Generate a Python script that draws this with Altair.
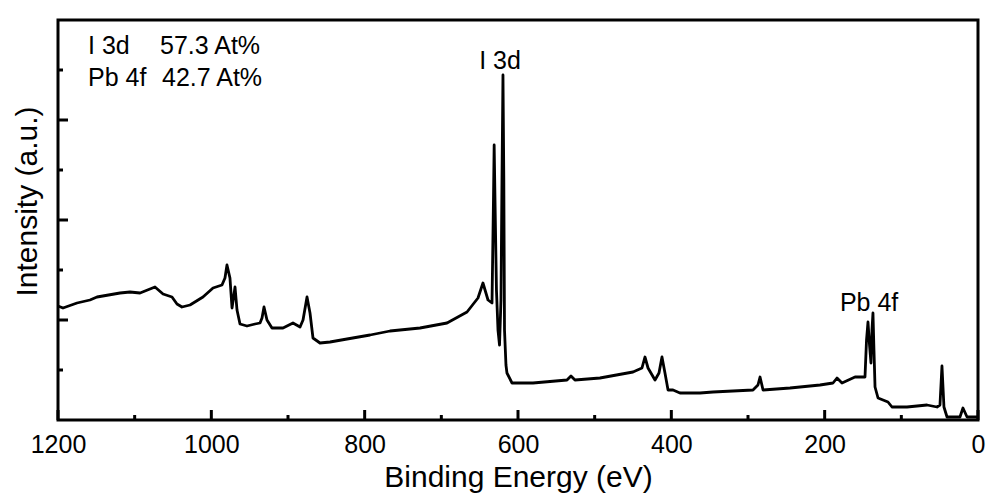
import altair as alt
import pandas as pd

# Binding energy (eV) and intensity (a.u.)
energy = [
    1200.0, 1193.5, 1175.2, 1158.3, 1149.1, 1119.1, 1106.1, 1093.0, 1073.5, 1063.0,
    1051.3, 1044.8, 1038.3, 1027.8, 1010.9, 997.8, 986.1, 982.2, 979.6, 975.7,
    973.0, 969.1, 966.5, 962.6, 953.5, 943.0, 936.5, 933.9, 931.3, 927.4,
    920.9, 906.5, 893.5, 884.3, 880.4, 875.2, 871.3, 867.4, 858.3, 845.2,
    823.0, 793.0, 766.9, 727.8, 692.6, 666.5, 652.2, 645.7, 639.1, 633.9,
    632.0, 631.1, 630.0, 628.1, 626.1, 624.1, 622.2, 620.9, 619.6, 618.5,
    617.6, 615.7, 614.4, 607.8, 580.4, 536.1, 530.9, 525.7, 493.1, 450.0,
    438.3, 434.4, 430.4, 421.3, 416.1, 412.2, 408.3, 404.3, 397.8, 388.7,
    362.6, 345.7, 293.5, 287.0, 284.3, 280.4, 245.2, 206.1, 189.1, 183.9,
    177.4, 160.4, 147.4, 145.4, 143.5, 141.5, 139.6, 138.3, 137.0, 135.7,
    134.3, 130.4, 117.4, 112.2, 92.6, 66.5, 53.5, 49.6, 47.0, 44.4,
    40.4, 23.5, 19.6, 14.3, 1.3,
]
intensity = [
    11400, 11200, 11700, 12000, 12300, 12700, 12800, 12700, 13300, 12600,
    12300, 11600, 11300, 11500, 12300, 13200, 13500, 14200, 15500, 14200,
    11200, 13300, 11000, 9600, 9400, 9600, 9700, 10200, 11300, 10000,
    9200, 9200, 9700, 9300, 10000, 12300, 10700, 8200, 7700, 7800,
    8100, 8500, 8900, 9200, 9700, 10800, 12200, 13700, 12000, 11700,
    22000, 27500, 22000, 13000, 9000, 7500, 12000, 24000, 34500, 24000,
    9000, 5500, 4700, 3700, 3700, 4000, 4400, 4000, 4200, 4800,
    5200, 6300, 5200, 4000, 4700, 6300, 4700, 3000, 3000, 2700,
    2700, 2800, 3000, 3500, 4300, 3000, 3200, 3500, 3700, 4200,
    3700, 4300, 4300, 8000, 9800, 7500, 5700, 9000, 10700, 7000,
    3300, 2200, 1800, 1300, 1300, 1500, 1300, 1500, 5400, 1300,
    300, 300, 1200, 300, 300,
]

x_label_values = [1200, 1000, 800, 600, 400, 200, 0]
x_minor_ticks = [1100, 900, 700, 500, 300, 100]
y_major_ticks = [10000, 20000, 30000]
y_minor_ticks = [5000, 15000, 25000, 35000]

peak_labels = ["I 3d", "Pb 4f"]
peak_label_e = [623.5, 142.0]
peak_label_i = [35100, 10900]

corner_elements = ["I 3d", "Pb 4f"]
corner_values = ["57.3 At%", "42.7 At%"]

FONT = "Liberation Sans"
W, H = 920, 400

spec_df = pd.DataFrame({"E": energy, "I": intensity, "idx": list(range(len(energy)))})

xenc = alt.X(
    "E:Q",
    scale=alt.Scale(domain=[1200, 0], nice=False, zero=False),
    axis=alt.Axis(
        values=x_label_values, format="d", title="Binding Energy (eV)", ticks=False,
        domain=False, grid=False, labelFontSize=25, labelFont=FONT, labelColor="black",
        labelPadding=12, titleFontSize=30, titleFont=FONT, titleFontWeight="normal",
        titleColor="black", titlePadding=5, labelFlush=False,
    ),
)
yenc = alt.Y(
    "I:Q",
    scale=alt.Scale(domain=[0, 40000], nice=False, zero=False),
    axis=alt.Axis(
        labels=False, ticks=False, domain=False, grid=False,
        title="Intensity (a.u.)", titleFontSize=30, titleFont=FONT,
        titleFontWeight="normal", titleColor="black", titlePadding=16,
        titleX=-16, titleY=181, titleAngle=270, titleBaseline="bottom", titleAlign="center",
    ),
)

line = alt.Chart(spec_df).mark_line(color="black", strokeWidth=2.8, strokeJoin="round").encode(
    x=xenc, y=yenc, order="idx:Q"
)

xmaj = alt.Chart(pd.DataFrame({"E": x_label_values})).mark_rule(color="black", strokeWidth=3).encode(
    x=xenc, y=alt.value(H), y2=alt.value(H - 10)
)
xmin = alt.Chart(pd.DataFrame({"E": x_minor_ticks})).mark_rule(color="black", strokeWidth=3).encode(
    x=xenc, y=alt.value(H), y2=alt.value(H - 5)
)
ymaj = alt.Chart(pd.DataFrame({"I": y_major_ticks})).mark_rule(color="black", strokeWidth=3).encode(
    y=yenc, x=alt.value(0), x2=alt.value(10)
)
ymin = alt.Chart(pd.DataFrame({"I": y_minor_ticks})).mark_rule(color="black", strokeWidth=3).encode(
    y=yenc, x=alt.value(0), x2=alt.value(5)
)

peak_text = alt.Chart(
    pd.DataFrame({"E": peak_label_e, "I": peak_label_i, "t": peak_labels})
).mark_text(font=FONT, fontSize=25, color="black", align="center", baseline="alphabetic").encode(
    x=xenc, y=yenc, text="t:N"
)

corner_df = pd.DataFrame({"el": corner_elements, "val": corner_values, "row": [0, 1]})

def corner(row, field, xpx, ypx):
    return alt.Chart(corner_df).transform_filter(f"datum.row == {row}").mark_text(
        font=FONT, fontSize=25, color="black", align="left", baseline="alphabetic"
    ).encode(x=alt.value(xpx), y=alt.value(ypx), text=f"{field}:N")

chart = alt.layer(
    line, xmaj, xmin, ymaj, ymin, peak_text,
    corner(0, "el", 30, 34), corner(1, "el", 30, 66),
    corner(0, "val", 102, 34), corner(1, "val", 104, 66),
).properties(
    width=W, height=H,
    autosize=alt.AutoSizeParams(type="none"),
    padding={"left": 58, "top": 20, "right": 22, "bottom": 84},
    background="white",
).configure_view(stroke="black", strokeWidth=3)

chart.save("out.html", embed_options={"renderer": "svg", "actions": False})
